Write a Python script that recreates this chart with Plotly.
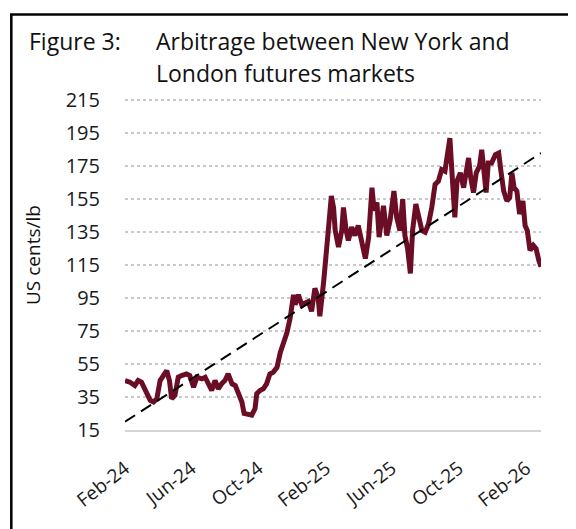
import plotly.graph_objects as go

# ---- data ----
dates = [
    "2024-02-01", "2024-02-10", "2024-02-19", "2024-02-25", "2024-03-02", "2024-03-08",
    "2024-03-18", "2024-03-24", "2024-03-30", "2024-04-05", "2024-04-11", "2024-04-17",
    "2024-04-22", "2024-04-26", "2024-05-02", "2024-05-08", "2024-05-14", "2024-05-23",
    "2024-05-29", "2024-06-05", "2024-06-11", "2024-06-20", "2024-06-26", "2024-07-02",
    "2024-07-08", "2024-07-14", "2024-07-20", "2024-07-26", "2024-08-01", "2024-08-07",
    "2024-08-14", "2024-08-20", "2024-08-26", "2024-09-01", "2024-09-05", "2024-09-13",
    "2024-09-19", "2024-09-25", "2024-09-28", "2024-10-04", "2024-10-10", "2024-10-16",
    "2024-10-22", "2024-10-28", "2024-11-04", "2024-11-10", "2024-11-16", "2024-11-22",
    "2024-11-28", "2024-12-04", "2024-12-07", "2024-12-13", "2024-12-19", "2024-12-25",
    "2024-12-31", "2025-01-06", "2025-01-12", "2025-01-18", "2025-01-21", "2025-01-28",
    "2025-02-03", "2025-02-07", "2025-02-11", "2025-02-15", "2025-02-18", "2025-02-24",
    "2025-03-02", "2025-03-05", "2025-03-10", "2025-03-14", "2025-03-20", "2025-03-26",
    "2025-04-01", "2025-04-07", "2025-04-14", "2025-04-20", "2025-04-26", "2025-04-30",
    "2025-05-05", "2025-05-09", "2025-05-17", "2025-05-23", "2025-05-29", "2025-06-05",
    "2025-06-10", "2025-06-16", "2025-06-21", "2025-06-25", "2025-06-30", "2025-07-05",
    "2025-07-09", "2025-07-15", "2025-07-20", "2025-07-26", "2025-08-01", "2025-08-07",
    "2025-08-13", "2025-08-19", "2025-08-25", "2025-08-31", "2025-09-06", "2025-09-11",
    "2025-09-15", "2025-09-19", "2025-09-24", "2025-09-28", "2025-10-04", "2025-10-10",
    "2025-10-15", "2025-10-19", "2025-10-23", "2025-10-28", "2025-11-02", "2025-11-08",
    "2025-11-12", "2025-11-15", "2025-11-20", "2025-11-24", "2025-11-30", "2025-12-07",
    "2025-12-13", "2025-12-17", "2025-12-22", "2025-12-28", "2026-01-02", "2026-01-06",
    "2026-01-10", "2026-01-15", "2026-01-20", "2026-01-26", "2026-01-30", "2026-02-03",
    "2026-02-08", "2026-02-14", "2026-02-19", "2026-02-24", "2026-02-27", "2026-02-28",
]
arbitrage = [
    45, 44, 42, 45, 44, 40,
    33, 32, 34, 45, 48, 51,
    45, 34, 36, 47, 48, 49,
    48, 41, 47, 46, 47, 43,
    39, 45, 40, 43, 45, 49,
    43, 42, 37, 32, 25, 24,
    24, 28, 37, 39, 40, 43,
    49, 50, 53, 62, 68, 74,
    83, 97, 91, 97, 91, 92,
    93, 87, 101, 95, 84, 105,
    132, 142, 157, 150, 136, 126,
    136, 150, 136, 130, 138, 133,
    139, 130, 119, 132, 162, 148,
    153, 132, 151, 133, 142, 160,
    144, 136, 155, 133, 125, 110,
    136, 152, 144, 136, 135, 140,
    150, 164, 166, 173, 172, 183,
    192, 170, 144, 166, 171, 162,
    175, 180, 168, 159, 171, 175,
    185, 175, 159, 177, 177, 182,
    183, 172, 160, 154, 156, 171,
    162, 160, 146, 154, 139, 136,
    124, 127, 125, 118, 115, 114,
]
trend_dates = ["2024-02-01", "2026-02-28"]
trend_values = [20, 183]

x_tickvals = ["2024-02-01", "2024-06-01", "2024-10-01", "2025-02-01",
              "2025-06-01", "2025-10-01", "2026-02-01"]
x_ticktext = ["Feb-24", "Jun-24", "Oct-24", "Feb-25", "Jun-25", "Oct-25", "Feb-26"]
y_tickvals = [15, 35, 55, 75, 95, 115, 135, 155, 175, 195, 215]

FONT = "Open Sans"

fig = go.Figure()
fig.add_trace(go.Scatter(
    x=dates, y=arbitrage, mode="lines",
    line=dict(color="#6a0d25", width=5),
    showlegend=False, hoverinfo="skip",
))
fig.add_trace(go.Scatter(
    x=trend_dates, y=trend_values, mode="lines",
    line=dict(color="#000000", width=2, dash="12px,7px"),
    showlegend=False, hoverinfo="skip",
))

# The page body has an 8px margin; lay out in page pixels and shift.
OFF = 8
W, H = 576 - OFF, 529 - OFF
# plot area in page pixels: 15 at y=430, 215 at y=100 -> range extended to 217
L, R, T, B = 125 - OFF, 541 - OFF, 97 - OFF, 430 - OFF
pw, ph = R - L, B - T

def px(xp):  # page pixel -> paper x
    return (xp - OFF - L) / pw

def py(yp):  # page pixel -> paper y
    return (B - (yp - OFF)) / ph

fig.update_layout(
    width=W, height=H,
    margin=dict(l=L, r=W - R, t=T, b=H - B, pad=0),
    paper_bgcolor="white", plot_bgcolor="white",
    font=dict(family=FONT, size=20, color="#1a1a1a"),
    xaxis=dict(
        type="date",
        range=["2024-02-01", "2026-02-28"],
        tickmode="array", tickvals=x_tickvals, ticktext=x_ticktext,
        tickangle=-38,
        ticks="outside", ticklen=18, tickcolor="rgba(0,0,0,0)",
        showgrid=False, zeroline=False,
        showline=True, linecolor="#d4d4d4", linewidth=2,
        tickfont=dict(family=FONT, size=19, color="#1a1a1a"),
    ),
    yaxis=dict(
        range=[15, 217],
        tickmode="array", tickvals=y_tickvals,
        ticks="outside", ticklen=20, tickcolor="rgba(0,0,0,0)",
        showgrid=True, gridcolor="#c9c9c9", gridwidth=2, griddash="dot",
        zeroline=False, showline=False,
        tickfont=dict(family=FONT, size=20, color="#1a1a1a"),
    ),
    shapes=[
        dict(type="line", xref="paper", yref="paper",
             x0=px(10), x1=px(600), y0=py(14.5), y1=py(14.5),
             line=dict(color="black", width=2.5)),
        dict(type="line", xref="paper", yref="paper",
             x0=px(11.3), x1=px(11.3), y0=py(14.5), y1=py(560),
             line=dict(color="black", width=2.5)),
    ],
    annotations=[
        dict(text="Figure 3:", xref="paper", yref="paper",
             x=px(27), y=py(41), xanchor="left", yanchor="middle",
             showarrow=False, font=dict(family=FONT, size=23, color="#111")),
        dict(text="Arbitrage between New York and", xref="paper", yref="paper",
             x=px(154), y=py(41), xanchor="left", yanchor="middle",
             showarrow=False, font=dict(family=FONT, size=23, color="#111")),
        dict(text="London futures markets", xref="paper", yref="paper",
             x=px(154), y=py(73), xanchor="left", yanchor="middle",
             showarrow=False, font=dict(family=FONT, size=23, color="#111")),
        dict(text="US cents/lb", xref="paper", yref="paper",
             x=px(33), y=py(255), xanchor="center", yanchor="middle",
             textangle=-90, showarrow=False,
             font=dict(family=FONT, size=19, color="#111")),
    ],
)

fig.write_html("out.html")
